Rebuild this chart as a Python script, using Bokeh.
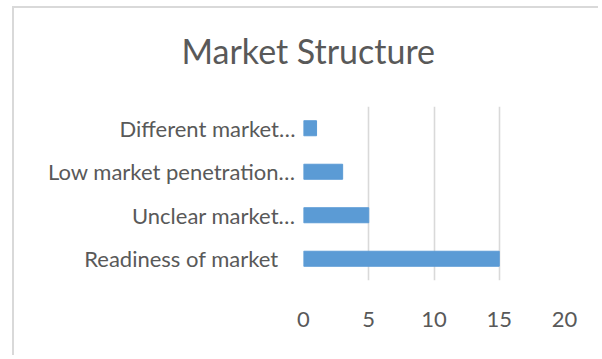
from bokeh.plotting import figure
from bokeh.models import FactorRange, Range1d, FixedTicker, LinearAxis
from bokeh.embed import file_html
from bokeh.resources import INLINE

title_text = "Market Structure"
categories = ["Readiness of market\u00a0\u00a0\u00a0", "Unclear market…", "Low market penetration…", "Different market…"]
values = [15, 5, 3, 1]
x_ticks = [0, 5, 10, 15, 20]

BAR = "#5b9bd5"
GRID = "#d9d9d9"
TEXT = "#595959"
FONT = "Lato"

p = figure(
    width=586, height=349,
    y_range=FactorRange(factors=categories, range_padding=0),
    x_range=Range1d(0, 20),
    output_backend="svg", toolbar_location=None,
    title=title_text,
    min_border_left=289, min_border_right=36,
    min_border_top=98, min_border_bottom=77,
)
p.styles = {
    "margin-left": "12px",
    "margin-top": "6px",
    "border-left": "2px solid #d9d9d9",
    "border-top": "2px solid #d9d9d9",
}

p.hbar(y=categories, right=values, height=0.345, color=BAR)

p.outline_line_color = None
p.ygrid.visible = False
p.xgrid.grid_line_color = GRID
p.xgrid.grid_line_width = 1.6

xa = p.xaxis[0]
ya = p.yaxis[0]
xa.ticker = FixedTicker(ticks=x_ticks)
for ax in (xa, ya):
    ax.axis_line_color = None
    ax.major_tick_line_color = None
    ax.minor_tick_line_color = None
    ax.major_tick_out = 0
    ax.major_tick_in = 0
    ax.minor_tick_out = 0
    ax.major_label_text_font = FONT
    ax.major_label_text_font_size = "22px"
    ax.major_label_text_color = TEXT
xa.major_label_standoff = 31
ya.major_label_standoff = 8

# blank spacer between the title and the plot area (white tick on white, empty label)
spacer = LinearAxis(ticker=FixedTicker(ticks=[0]), axis_line_color=None,
                    major_tick_line_color="white", minor_tick_line_color=None,
                    major_tick_out=31, major_tick_in=0, minor_tick_out=0,
                    major_label_standoff=0, major_label_text_font_size="1px",
                    major_label_overrides={0: ""})
p.add_layout(spacer, "above")

p.title.text_font = FONT
p.title.text_font_size = "34px"
p.title.text_font_style = "normal"
p.title.text_color = TEXT
p.title.align = "left"
p.title.offset = -122
p.title.standoff = 10

open("out.html", "w").write(file_html(p, INLINE))
